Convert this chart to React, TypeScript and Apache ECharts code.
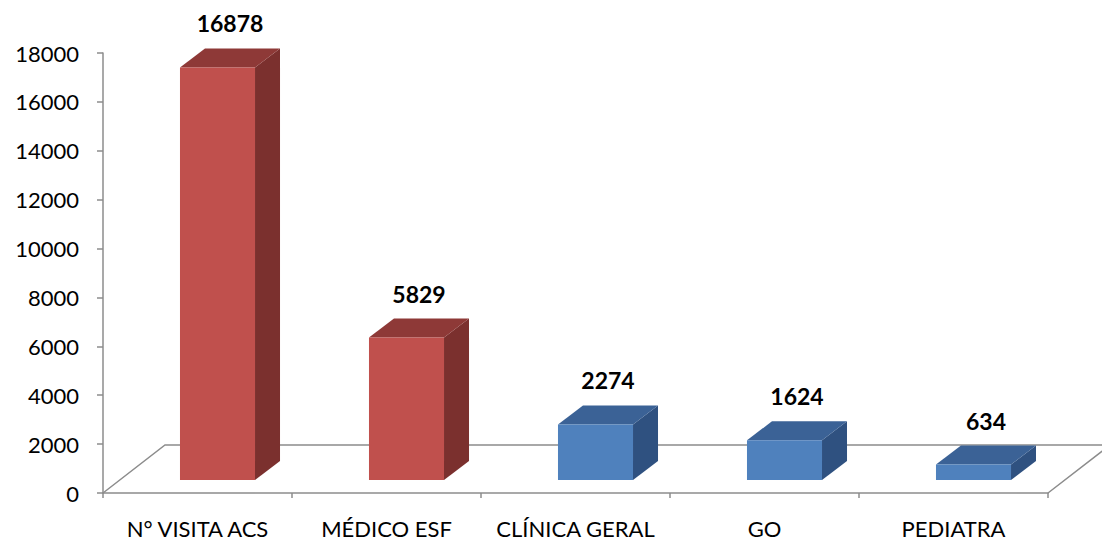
import React, { useEffect, useRef } from "react";
import * as echarts from "echarts";

const categories = ["N° VISITA ACS", "MÉDICO ESF", "CLÍNICA GERAL", "GO", "PEDIATRA"];
const values = [16878, 5829, 2274, 1624, 634];
const colorGroup = [0, 0, 1, 1, 1]; // 0 = red, 1 = blue
const yTicks = { min: 0, max: 18000, interval: 2000 };

const palettes = [
  { front: "#C0504D", side: "#7B302E", top: "#8E3937" },
  { front: "#4F81BD", side: "#2F5180", top: "#3B6296" },
];

const DEPTH_X = 25;
const DEPTH_Y = -19;
const FLOOR_X = 62;
const FLOOR_Y = -48;

export default function App() {
  const ref = useRef<HTMLDivElement>(null);
  useEffect(() => {
    document.body.style.margin = "0";
    const chart = echarts.init(ref.current!, null, { renderer: "svg" });
    const font = "Lato, 'Open Sans', sans-serif";
    chart.setOption({
      animation: false,
      backgroundColor: "#ffffff",
      grid: { left: 103, right: 54, top: 53, bottom: 47 },
      xAxis: {
        type: "category",
        data: categories,
        boundaryGap: true,
        axisLine: { show: true, lineStyle: { color: "#8C8C8C", width: 1.5 } },
        axisTick: { show: true, interval: 0, length: 5, lineStyle: { color: "#8C8C8C", width: 1.5 } },
        axisLabel: { color: "#000", fontSize: 22, fontFamily: font, margin: 24, interval: 0, hideOverlap: false },
        splitLine: { show: false },
      },
      yAxis: {
        type: "value",
        min: yTicks.min,
        max: yTicks.max,
        interval: yTicks.interval,
        axisLine: { show: true, lineStyle: { color: "#8C8C8C", width: 1.5 } },
        axisTick: { show: true, length: 6, lineStyle: { color: "#8C8C8C", width: 1.5 } },
        axisLabel: {
          color: "#000",
          fontSize: 22,
          fontFamily: font,
          margin: 24,
          formatter: (v: number) => String(v),
        },
        splitLine: { show: false },
      },
      series: [
        {
          type: "custom",
          z: 1,
          data: [[0, 0]],
          renderItem: (params: any, api: any) => {
            const band = api.size([1, 0])[0];
            const left = api.coord([0, 0]);
            const right = api.coord([categories.length - 1, 0]);
            const fl = [left[0] - band / 2, left[1]];
            const fr = [right[0] + band / 2, right[1]];
            const stroke = { stroke: "#8C8C8C", lineWidth: 1.5, fill: "none" };
            return {
              type: "group",
              children: [
                {
                  type: "polyline",
                  shape: {
                    points: [
                      fl,
                      [fl[0] + FLOOR_X, fl[1] + FLOOR_Y],
                      [fr[0] + FLOOR_X, fr[1] + FLOOR_Y],
                      fr,
                    ],
                  },
                  style: stroke,
                },
              ],
            };
          },
        },
        {
          type: "custom",
          z: 2,
          data: values.map((v, i) => [i, v, colorGroup[i]]),
          renderItem: (params: any, api: any) => {
            const i = api.value(0);
            const v = api.value(1);
            const pal = palettes[api.value(2)];
            const band = api.size([1, 0])[0];
            const w = band * 0.397;
            const base = api.coord([i, 0]);
            const topP = api.coord([i, v]);
            const cx = base[0] + 20;
            const x0 = cx - w / 2;
            const x1 = cx + w / 2;
            const yb = base[1] - 13;
            const yt = topP[1] - 13;
            return {
              type: "group",
              children: [
                {
                  type: "polygon",
                  shape: { points: [[x1, yb], [x1 + DEPTH_X, yb + DEPTH_Y], [x1 + DEPTH_X, yt + DEPTH_Y], [x1, yt]] },
                  style: { fill: pal.side },
                },
                {
                  type: "polygon",
                  shape: { points: [[x0, yt], [x0 + DEPTH_X, yt + DEPTH_Y], [x1 + DEPTH_X, yt + DEPTH_Y], [x1, yt]] },
                  style: { fill: pal.top },
                },
                {
                  type: "rect",
                  shape: { x: x0, y: yt, width: w, height: yb - yt },
                  style: { fill: pal.front },
                },
                {
                  type: "text",
                  style: {
                    text: String(v),
                    x: cx + DEPTH_X / 2,
                    y: yt + DEPTH_Y - 25,
                    align: "center",
                    verticalAlign: "middle",
                    fontSize: 23,
                    fontWeight: "bold",
                    fontFamily: font,
                    fill: "#000",
                  },
                },
              ],
            };
          },
        },
      ],
    });
    return () => chart.dispose();
  }, []);
  return <div ref={ref} style={{ width: 1102, height: 540 }} />;
}
